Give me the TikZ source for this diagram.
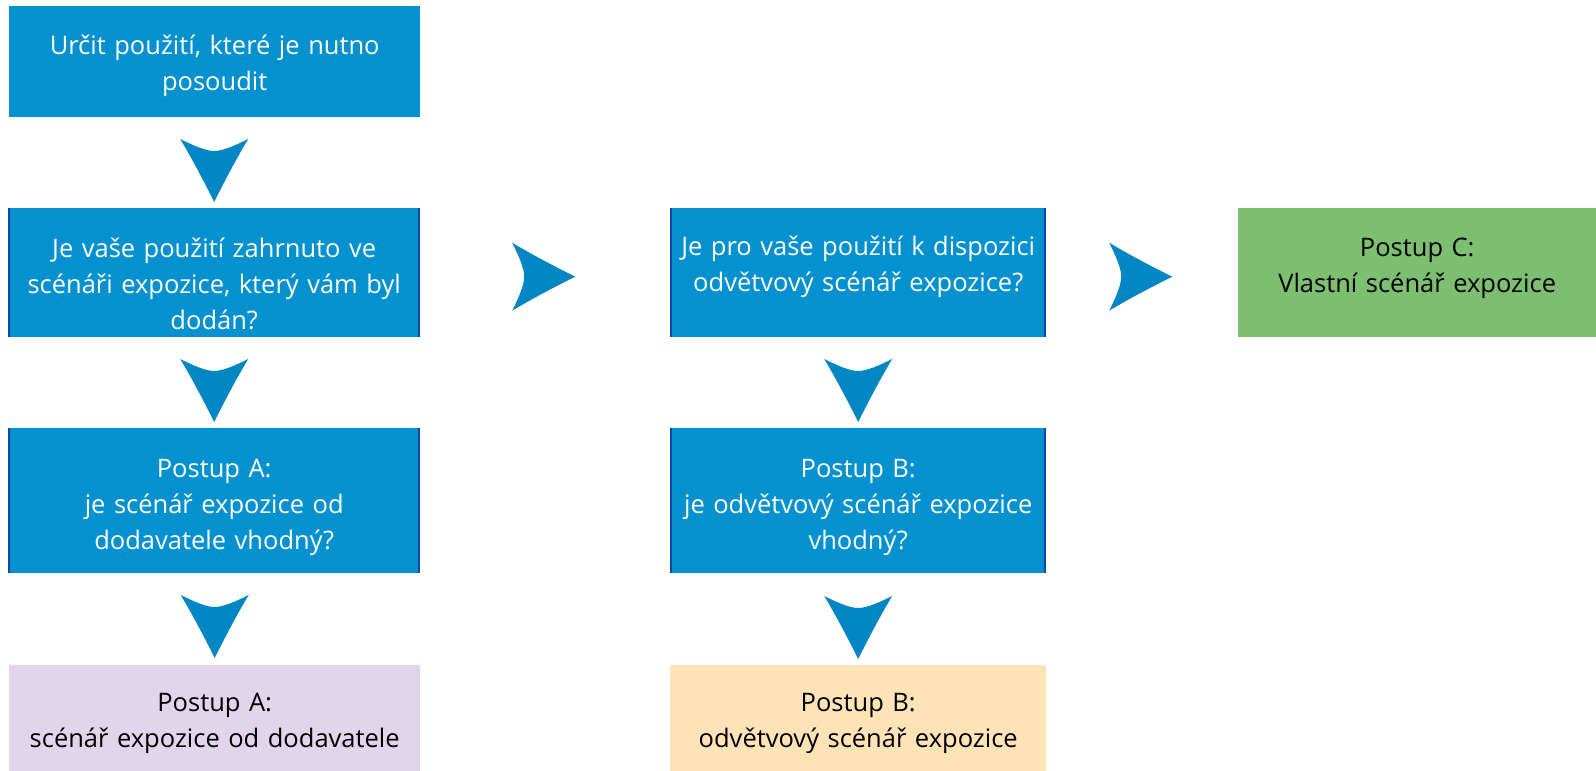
\documentclass[tikz,border=0pt]{standalone}
\usepackage{fontspec}
\setmainfont{Open Sans}
\usetikzlibrary{calc,positioning}
\definecolor{boxblue}{RGB}{4,145,207}
\definecolor{tipblue}{RGB}{3,134,196}
\definecolor{edgeblue}{RGB}{20,70,170}
\definecolor{boxlilac}{RGB}{224,213,235}
\definecolor{boxsand}{RGB}{254,227,182}
\definecolor{boxgreen}{RGB}{125,191,112}
\tikzset{
	stepbox/.style={anchor=north west,inner sep=0pt,align=center,
		font=\fontsize{25.5}{36}\selectfont},
	askbox/.style={stepbox,fill=boxblue,text=white},
	textnudge/.style={execute at end node={\par\vspace*{#1}}},
	sideline/.style={edgeblue,line width=2pt},
	pics/tipdown/.style={code={
		\fill[tipblue] (0,0) .. controls (-11,-22) and (-22,-43) .. (-34,-63)
		.. controls (-20,-56) and (-8,-51) .. (0,-51)
		.. controls (8,-51) and (20,-56) .. (34,-63)
		.. controls (22,-43) and (11,-22) .. (0,0) -- cycle;
	}}
}
\begin{document}
\begin{tikzpicture}[x=1pt,y=-1pt]
\useasboundingbox (0,0) rectangle (1596,771);
% first column
\node[askbox,textnudge=-9pt,minimum width=411pt,minimum height=111pt,text width=400pt] (q1) at (9,6)
{Určit použití, které je nutno\\posoudit};
\node[askbox,textnudge=-22pt,minimum width=412pt,minimum height=129pt,text width=400pt] (q2) at (8,208)
{Je vaše použití zahrnuto ve\\scénáři expozice, který vám byl\\dodán?};
\node[askbox,textnudge=-13pt,minimum width=412pt,minimum height=145pt,text width=400pt] (q3) at (8,428)
{Postup A:\\je scénář expozice od\\dodavatele vhodný?};
\node[stepbox,textnudge=-10pt,fill=boxlilac,minimum width=411pt,minimum height=106pt,text width=400pt] (ra) at (9,665)
{Postup A:\\scénář expozice od dodavatele};
% second column
\node[askbox,textnudge=11pt,minimum width=376pt,minimum height=129pt,text width=366pt] (p2) at (670,208)
{Je pro vaše použití k dispozici\\odvětvový scénář expozice?};
\node[askbox,textnudge=-13pt,minimum width=376pt,minimum height=145pt,text width=366pt] (p3) at (670,428)
{Postup B:\\je odvětvový scénář expozice\\vhodný?};
\node[stepbox,textnudge=-10pt,fill=boxsand,minimum width=376pt,minimum height=106pt,text width=366pt] (rb) at (670,665)
{Postup B:\\odvětvový scénář expozice};
% third column
\node[stepbox,textnudge=8pt,fill=boxgreen,minimum width=358pt,minimum height=129pt,text width=350pt] (rc) at (1238,208)
{Postup C:\\Vlastní scénář expozice};
% dark side edges
\foreach \n in {q2,q3,p2,p3}
	\draw[sideline] ([xshift=1pt]\n.north west) -- ([xshift=1pt]\n.south west)
	([xshift=-1pt]\n.north east) -- ([xshift=-1pt]\n.south east);
% arrow heads
\pic at ($(q2.north)+(0,-6)$) {tipdown};
\pic at ($(q3.north)+(0,-6)$) {tipdown};
\pic at ($(ra.north)+(0,-7)$) {tipdown};
\pic at ($(p3.north)+(0,-6)$) {tipdown};
\pic at ($(rb.north)+(0,-6)$) {tipdown};
\pic[rotate=90] at ($(q2.east)!0.5!(p2.west)+(30,4)$) {tipdown};
\pic[rotate=90] at ($(p2.east)!0.5!(rc.west)+(30,4)$) {tipdown};
\end{tikzpicture}
\end{document}
